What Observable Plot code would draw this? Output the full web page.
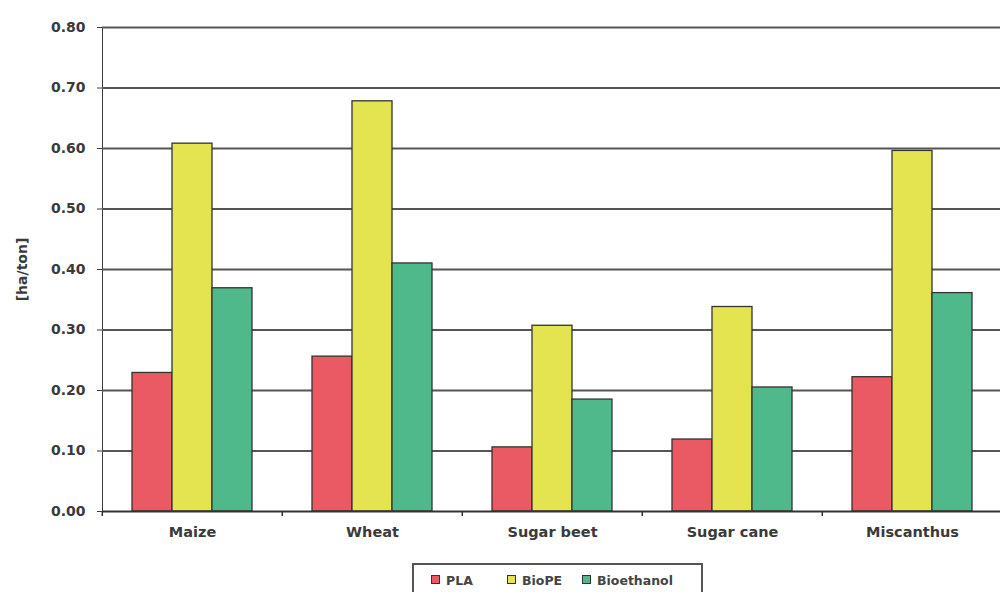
<!DOCTYPE html>
<html>
<head>
<meta charset="utf-8">
<script src="https://cdn.jsdelivr.net/npm/d3@7"></script>
<script src="https://cdn.jsdelivr.net/npm/@observablehq/plot@0.6"></script>
<style>
  html, body { margin: 0; padding: 0; background: #fff; }
  body { width: 1000px; height: 592px; overflow: hidden; position: relative; font-family: "DejaVu Sans", sans-serif; }
  #legend { position: absolute; left: 412px; top: 563px; width: 287px; height: 40px; border: 2px solid #555; box-sizing: content-box; }
  #legend .item { position: absolute; top: 8px; font-size: 12.5px; font-weight: bold; color: #444; white-space: nowrap; line-height: 15px; }
  #legend .sw { display: inline-block; width: 7px; height: 7px; border: 1px solid #333; margin-right: 6px; vertical-align: 1px; }
</style>
</head>
<body>
<div id="chart"></div>
<div id="legend"></div>
<script>
const categories = ["Maize", "Wheat", "Sugar beet", "Sugar cane", "Miscanthus"];
const series = ["PLA", "BioPE", "Bioethanol"];
const PLA = [0.229, 0.256, 0.106, 0.119, 0.222];
const BioPE = [0.608, 0.678, 0.307, 0.338, 0.596];
const Bioethanol = [0.369, 0.410, 0.185, 0.205, 0.361];
const colors = ["#e95a64", "#e4e450", "#50b98c"];
const yTicks = [0, 0.1, 0.2, 0.3, 0.4, 0.5, 0.6, 0.7, 0.8];
const yLabel = "[ha/ton]";

const valuesBySeries = {PLA, BioPE, Bioethanol};
const data = [];
categories.forEach((c, i) => series.forEach(s => data.push({category: c, series: s, value: valuesBySeries[s][i]})));

const W = 1000, H = 556, ML = 101, MR = -3, MT = 27, MB = 45;
const halfStep = (W - ML - MR) / categories.length / 2;

const chart = Plot.plot({
  width: W,
  height: H,
  marginLeft: ML,
  marginRight: MR,
  marginTop: MT,
  marginBottom: MB,
  style: {fontFamily: "DejaVu Sans", fontSize: "14px", fontWeight: "bold", color: "#3a3a3a", background: "#fff", overflow: "visible"},
  fx: {domain: categories, padding: 0, label: null},
  x: {domain: series, paddingInner: 0, paddingOuter: 0.75, axis: null},
  y: {domain: [0, 0.8], ticks: yTicks, tickFormat: d3.format(".2f"), tickSize: 5, tickPadding: 12, label: yLabel, labelAnchor: "center", labelOffset: 85, labelArrow: "none", line: true},
  color: {domain: series, range: colors},
  marks: [
    Plot.ruleY(yTicks.slice(1), {stroke: "#555", strokeWidth: 1.8}),
    Plot.barY(data, {fx: "category", x: "series", y: "value", fill: "series", stroke: "#333", strokeWidth: 1.3}),
    Plot.ruleY([0], {stroke: "#333", strokeWidth: 1.8}),
    Plot.axisFx({anchor: "bottom", tickSize: 0, tickPadding: 15, fontSize: 14.5, label: null}),
    Plot.axisFx({anchor: "bottom", text: null, tickSize: 5, dx: -halfStep, stroke: "#333", strokeWidth: 1.5, label: null})
  ]
});
document.getElementById("chart").appendChild(chart);

const legend = document.getElementById("legend");
const lefts = [17, 93, 168];
series.forEach((s, i) => {
  const item = document.createElement("div");
  item.className = "item";
  item.style.left = lefts[i] + "px";
  const sw = document.createElement("span");
  sw.className = "sw";
  sw.style.background = colors[i];
  item.appendChild(sw);
  item.appendChild(document.createTextNode(s));
  legend.appendChild(item);
});
</script>
</body>
</html>
